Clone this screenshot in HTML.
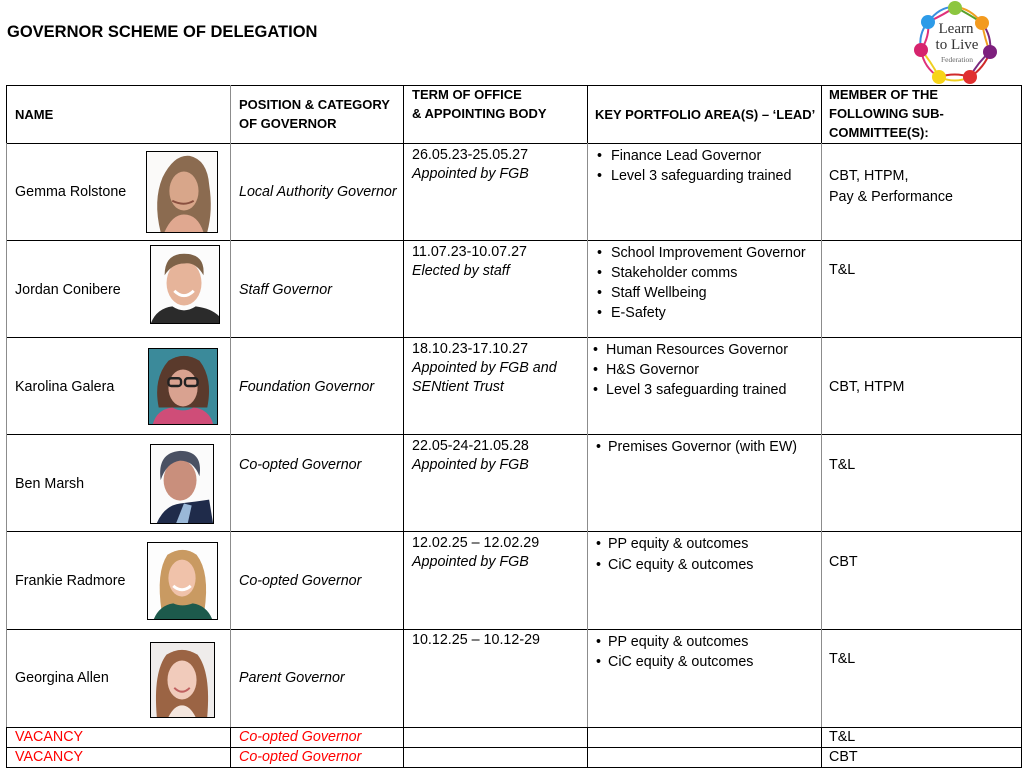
<!DOCTYPE html>
<html>
<head>
<meta charset="utf-8">
<style>
  html,body{margin:0;padding:0;background:#fff;}
  #pg{position:relative;width:1035px;height:770px;overflow:hidden;background:#fff;
      font-family:"Liberation Sans",Arial,sans-serif;color:#000;font-size:14.3px;}
  .t{position:absolute;line-height:18px;white-space:nowrap;}
  .i{font-style:italic;}
  .h{font-weight:bold;font-size:13px;line-height:19px;}
  .r{color:#ff0000;}
  .hl{position:absolute;height:1px;background:#000;}
  .vl{position:absolute;width:1px;background:#000;}
  .g{background:#8c8c8c;}
  .ph{position:absolute;border:1px solid #000;box-sizing:border-box;overflow:hidden;}
  .ph svg{display:block;width:100%;height:100%;}
  .b{position:absolute;line-height:18px;white-space:nowrap;}
</style>
</head>
<body>
<div id="pg">

<div class="t" style="left:7px;top:22px;font-size:16.5px;font-weight:bold;line-height:20px;">GOVERNOR SCHEME OF DELEGATION</div>

<!-- logo -->
<svg style="position:absolute;left:900px;top:0;" width="110" height="86" viewBox="900 0 110 86">
  <g fill="none" stroke-width="2">
    <path d="M928 22 Q940 6 955 7" stroke="#3a8fe0"/>
    <path d="M928 22 Q945 14 955 7" stroke="#e0307a"/>
    <path d="M955 7 Q970 8 982 23" stroke="#f0a020"/>
    <path d="M955 7 Q972 16 982 23" stroke="#5aa02a"/>
    <path d="M982 23 Q992 36 990 52" stroke="#7a2a80"/>
    <path d="M982 23 Q985 40 990 52" stroke="#f0a020"/>
    <path d="M990 52 Q984 68 970 77" stroke="#d02a2a"/>
    <path d="M990 52 Q978 62 970 77" stroke="#7a2a80"/>
    <path d="M970 77 Q955 84 939 77" stroke="#f0d020"/>
    <path d="M970 77 Q955 72 939 77" stroke="#d02a2a"/>
    <path d="M939 77 Q924 68 921 50" stroke="#e0307a"/>
    <path d="M939 77 Q930 60 921 50" stroke="#f0d020"/>
    <path d="M921 50 Q918 34 928 22" stroke="#3a8fe0"/>
    <path d="M921 50 Q930 36 928 22" stroke="#e0307a"/>
  </g>
  <circle cx="955" cy="8" r="7" fill="#8cc63f"/>
  <circle cx="928" cy="22" r="7" fill="#2d9be8"/>
  <circle cx="982" cy="23" r="7" fill="#f39a1e"/>
  <circle cx="921" cy="50" r="7" fill="#d6246e"/>
  <circle cx="990" cy="52" r="7" fill="#7d1f7d"/>
  <circle cx="939" cy="77" r="7" fill="#f7d418"/>
  <circle cx="970" cy="77" r="7" fill="#e03030"/>
  <text x="956" y="33" text-anchor="middle" font-family="Liberation Serif,serif" font-size="15" fill="#333">Learn</text>
  <text x="957" y="49" text-anchor="middle" font-family="Liberation Serif,serif" font-size="15" fill="#333">to Live</text>
  <text x="957" y="62" text-anchor="middle" font-family="Liberation Serif,serif" font-size="7.5" fill="#666">Federation</text>
</svg>

<!-- horizontal lines -->
<div class="hl" style="left:6px;top:85px;width:1016px;"></div>
<div class="hl" style="left:6px;top:143px;width:1016px;"></div>
<div class="hl" style="left:6px;top:240px;width:1016px;"></div>
<div class="hl" style="left:6px;top:337px;width:1016px;"></div>
<div class="hl" style="left:6px;top:434px;width:1016px;"></div>
<div class="hl" style="left:6px;top:531px;width:1016px;"></div>
<div class="hl" style="left:6px;top:629px;width:1016px;"></div>
<div class="hl" style="left:6px;top:727px;width:1016px;"></div>
<div class="hl" style="left:6px;top:747px;width:1016px;"></div>
<div class="hl" style="left:6px;top:767px;width:1016px;"></div>

<!-- vertical lines: header -->
<div class="vl" style="left:6px;top:85px;height:58px;"></div>
<div class="vl g" style="left:230px;top:85px;height:58px;"></div>
<div class="vl" style="left:403px;top:85px;height:58px;"></div>
<div class="vl" style="left:587px;top:85px;height:58px;"></div>
<div class="vl" style="left:821px;top:85px;height:58px;"></div>
<div class="vl" style="left:1021px;top:85px;height:58px;"></div>
<!-- body -->
<div class="vl g" style="left:6px;top:143px;height:584px;"></div>
<div class="vl g" style="left:230px;top:143px;height:584px;"></div>
<div class="vl" style="left:403px;top:143px;height:584px;"></div>
<div class="vl g" style="left:587px;top:143px;height:584px;"></div>
<div class="vl g" style="left:821px;top:143px;height:584px;"></div>
<div class="vl" style="left:1021px;top:143px;height:584px;"></div>
<!-- vacancy rows -->
<div class="vl" style="left:6px;top:727px;height:41px;"></div>
<div class="vl" style="left:230px;top:727px;height:41px;"></div>
<div class="vl" style="left:403px;top:727px;height:41px;"></div>
<div class="vl" style="left:587px;top:727px;height:41px;"></div>
<div class="vl" style="left:821px;top:727px;height:41px;"></div>
<div class="vl" style="left:1021px;top:727px;height:41px;"></div>

<!-- header text -->
<div class="t h" style="left:15px;top:105px;">NAME</div>
<div class="t h" style="left:239px;top:95px;">POSITION &amp; CATEGORY<br>OF GOVERNOR</div>
<div class="t h" style="left:412px;top:85px;">TERM OF OFFICE<br>&amp; APPOINTING BODY</div>
<div class="t h" style="left:595px;top:105px;">KEY PORTFOLIO AREA(S) – ‘LEAD’</div>
<div class="t h" style="left:829px;top:85px;">MEMBER OF THE<br>FOLLOWING SUB-<br>COMMITTEE(S):</div>

<!-- Row 1 -->
<div class="t" style="left:15px;top:183px;">Gemma Rolstone</div>
<div class="ph" style="left:146px;top:151px;width:72px;height:82px;">
  <svg viewBox="0 0 72 82" preserveAspectRatio="none">
    <rect width="72" height="82" fill="#fbfaf9"/>
    <path d="M14 82 Q6 50 16 26 Q28 2 44 4 Q62 8 64 34 Q68 60 62 82 Z" fill="#8b6b50"/>
    <ellipse cx="38" cy="40" rx="15" ry="20" fill="#d8a68a"/>
    <path d="M18 82 Q26 64 38 64 Q52 64 58 82 Z" fill="#e0a890"/>
    <path d="M26 50 Q38 56 48 50" stroke="#8a5040" stroke-width="2" fill="none"/>
  </svg>
</div>
<div class="t i" style="left:239px;top:183px;">Local Authority Governor</div>
<div class="t" style="left:412px;top:146px;line-height:18.5px;">26.05.23-25.05.27<br><span class="i">Appointed by FGB</span></div>
<div class="b" style="left:597px;top:146px;line-height:20px;">•<br>•</div>
<div class="t" style="left:611px;top:146px;line-height:20px;">Finance Lead Governor<br>Level 3 safeguarding trained</div>
<div class="t" style="left:829px;top:166px;line-height:21px;">CBT, HTPM,<br>Pay &amp; Performance</div>

<!-- Row 2 -->
<div class="t" style="left:15px;top:281px;">Jordan Conibere</div>
<div class="ph" style="left:150px;top:245px;width:70px;height:79px;">
  <svg viewBox="0 0 70 79" preserveAspectRatio="none">
    <rect width="70" height="79" fill="#fcfcfc"/>
    <ellipse cx="34" cy="38" rx="18" ry="23" fill="#e6b49a"/>
    <path d="M14 30 Q14 8 34 8 Q56 8 54 30 Q46 16 34 18 Q22 18 14 30 Z" fill="#7d6248"/>
    <path d="M24 46 Q34 56 44 46" stroke="#fff" stroke-width="3" fill="none"/>
    <path d="M0 79 Q6 64 22 62 Q34 70 46 62 Q62 64 70 72 L70 79 Z" fill="#2b2b2b"/>
  </svg>
</div>
<div class="t i" style="left:239px;top:281px;">Staff Governor</div>
<div class="t" style="left:412px;top:243px;line-height:18.5px;">11.07.23-10.07.27<br><span class="i">Elected by staff</span></div>
<div class="b" style="left:597px;top:243px;line-height:20px;">•<br>•<br>•<br>•</div>
<div class="t" style="left:611px;top:243px;line-height:20px;">School Improvement Governor<br>Stakeholder comms<br>Staff Wellbeing<br>E-Safety</div>
<div class="t" style="left:829px;top:261px;">T&amp;L</div>

<!-- Row 3 -->
<div class="t" style="left:15px;top:378px;">Karolina Galera</div>
<div class="ph" style="left:148px;top:348px;width:70px;height:77px;">
  <svg viewBox="0 0 70 77" preserveAspectRatio="none">
    <rect width="70" height="77" fill="#3b8a9a"/>
    <path d="M10 60 Q4 30 20 12 Q36 2 52 12 Q66 30 60 60 Z" fill="#5a3a2c"/>
    <ellipse cx="35" cy="40" rx="15" ry="19" fill="#d9a290"/>
    <rect x="20" y="30" width="13" height="8" rx="3" fill="none" stroke="#222" stroke-width="2.5"/>
    <rect x="37" y="30" width="13" height="8" rx="3" fill="none" stroke="#222" stroke-width="2.5"/>
    <path d="M4 77 Q8 62 24 60 Q35 66 46 60 Q62 62 66 77 Z" fill="#cf4d78"/>
  </svg>
</div>
<div class="t i" style="left:239px;top:378px;">Foundation Governor</div>
<div class="t" style="left:412px;top:340px;line-height:19px;">18.10.23-17.10.27<br><span class="i">Appointed by FGB and<br>SENtient Trust</span></div>
<div class="b" style="left:593px;top:340px;line-height:20px;">•<br>•<br>•</div>
<div class="t" style="left:606px;top:340px;line-height:20px;">Human Resources Governor<br>H&amp;S Governor<br>Level 3 safeguarding trained</div>
<div class="t" style="left:829px;top:378px;">CBT, HTPM</div>

<!-- Row 4 -->
<div class="t" style="left:15px;top:475px;">Ben Marsh</div>
<div class="ph" style="left:150px;top:444px;width:64px;height:80px;">
  <svg viewBox="0 0 64 80" preserveAspectRatio="none">
    <rect width="64" height="80" fill="#fbfbfb"/>
    <ellipse cx="30" cy="36" rx="17" ry="21" fill="#c98f7c"/>
    <path d="M10 36 Q6 8 30 6 Q54 6 50 32 Q44 16 30 16 Q16 18 10 36 Z" fill="#4a5163"/>
    <path d="M6 80 Q14 62 30 60 Q46 58 60 56 L64 80 Z" fill="#1f2b4a"/>
    <path d="M26 80 L34 60 L42 62 L38 80 Z" fill="#9ab8d8"/>
  </svg>
</div>
<div class="t i" style="left:239px;top:456px;">Co-opted Governor</div>
<div class="t" style="left:412px;top:437px;line-height:19px;">22.05-24-21.05.28<br><span class="i">Appointed by FGB</span></div>
<div class="b" style="left:596px;top:437px;line-height:20px;">•</div>
<div class="t" style="left:608px;top:437px;line-height:20px;">Premises Governor (with EW)</div>
<div class="t" style="left:829px;top:456px;">T&amp;L</div>

<!-- Row 5 -->
<div class="t" style="left:15px;top:572px;">Frankie Radmore</div>
<div class="ph" style="left:147px;top:542px;width:71px;height:78px;">
  <svg viewBox="0 0 71 78" preserveAspectRatio="none">
    <rect width="71" height="78" fill="#fdfdfd"/>
    <path d="M14 70 Q8 30 20 12 Q36 2 50 12 Q64 30 58 70 Z" fill="#c99a62"/>
    <ellipse cx="35" cy="36" rx="14" ry="19" fill="#f0c2aa"/>
    <path d="M26 44 Q35 52 44 44" stroke="#fff" stroke-width="3" fill="none"/>
    <path d="M6 78 Q12 64 26 62 Q35 66 46 62 Q60 64 66 78 Z" fill="#1d5a4c"/>
  </svg>
</div>
<div class="t i" style="left:239px;top:572px;">Co-opted Governor</div>
<div class="t" style="left:412px;top:534px;line-height:19px;">12.02.25 – 12.02.29<br><span class="i">Appointed by FGB</span></div>
<div class="b" style="left:596px;top:534px;line-height:20.5px;">•<br>•</div>
<div class="t" style="left:608px;top:534px;line-height:20.5px;">PP equity &amp; outcomes<br>CiC equity &amp; outcomes</div>
<div class="t" style="left:829px;top:553px;">CBT</div>

<!-- Row 6 -->
<div class="t" style="left:15px;top:669px;">Georgina Allen</div>
<div class="ph" style="left:150px;top:642px;width:65px;height:76px;">
  <svg viewBox="0 0 65 76" preserveAspectRatio="none">
    <rect width="65" height="76" fill="#efeceb"/>
    <path d="M6 76 Q2 30 16 12 Q32 2 48 12 Q62 30 58 76 Z" fill="#9b6444"/>
    <ellipse cx="32" cy="38" rx="15" ry="20" fill="#f1cbbb"/>
    <path d="M24 46 Q32 54 40 46" stroke="#c06060" stroke-width="2" fill="none"/>
    <path d="M18 76 Q24 64 32 64 Q40 64 46 76 Z" fill="#f4e6de"/>
  </svg>
</div>
<div class="t i" style="left:239px;top:669px;">Parent Governor</div>
<div class="t" style="left:412px;top:631px;">10.12.25 – 10.12-29</div>
<div class="b" style="left:596px;top:632px;line-height:20px;">•<br>•</div>
<div class="t" style="left:608px;top:632px;line-height:20px;">PP equity &amp; outcomes<br>CiC equity &amp; outcomes</div>
<div class="t" style="left:829px;top:650px;">T&amp;L</div>

<!-- Vacancies -->
<div class="t r" style="left:15px;top:728px;">VACANCY</div>
<div class="t r i" style="left:239px;top:728px;">Co-opted Governor</div>
<div class="t" style="left:829px;top:728px;">T&amp;L</div>
<div class="t r" style="left:15px;top:748px;">VACANCY</div>
<div class="t r i" style="left:239px;top:748px;">Co-opted Governor</div>
<div class="t" style="left:829px;top:748px;">CBT</div>

</div>
</body>
</html>
